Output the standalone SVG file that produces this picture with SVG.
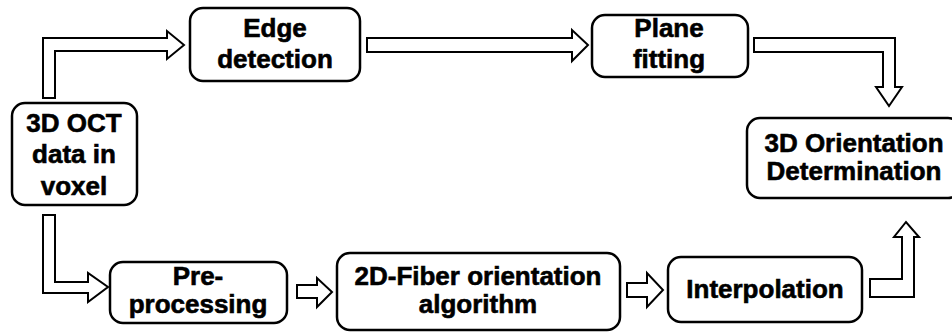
<svg xmlns="http://www.w3.org/2000/svg" width="952" height="332" viewBox="0 0 952 332">
<style>
.box{fill:#fff;stroke:#000;stroke-width:2.5}
.arr{fill:#fff;stroke:#000;stroke-width:2;stroke-linejoin:miter}
text{font-family:"Liberation Sans",Arial,sans-serif;font-weight:bold;font-size:26px;fill:#000;stroke:#000;stroke-width:0.6;text-anchor:middle}
</style>
<rect width="952" height="332" fill="#fff"/>
<g id="connectors">
<path class="arr" d="M43,98 L43,38 L167,38 L167,31 L184,45 L167,59 L167,51 L55,51 L55,98 Z"/>
<path class="arr" d="M367,38 L572,38 L572,30 L588,45 L572,61 L572,52 L367,52 Z"/>
<path class="arr" d="M754,38 L895,38 L895,87 L902,87 L889,106 L876,87 L883,87 L883,52 L754,52 Z"/>
<path class="arr" d="M43,215 L55,215 L55,282 L88,282 L88,273 L108,287 L88,302 L88,293 L43,293 Z"/>
<path class="arr" d="M297,285 L317,285 L317,278 L332,292 L317,307 L317,298 L297,298 Z"/>
<path class="arr" d="M627,283 L647,283 L647,273 L663,290 L647,307 L647,297 L627,297 Z"/>
<path class="arr" d="M870,279 L902,279 L902,237 L894,237 L906,222 L919,237 L914,237 L914,297 L870,297 Z"/>
</g>
<g id="n-oct">
<rect class="box" x="12" y="103" width="125" height="102" rx="13"/>
<text x="74" y="132">3D OCT</text>
<text x="74" y="163">data in</text>
<text x="74" y="195">voxel</text>
</g>
<g id="n-edge">
<rect class="box" x="190" y="8" width="170" height="73" rx="13"/>
<text x="275" y="37">Edge</text>
<text x="275" y="68">detection</text>
</g>
<g id="n-plane">
<rect class="box" x="592" y="15" width="156" height="62" rx="13"/>
<text x="669" y="37">Plane</text>
<text x="669" y="68">fitting</text>
</g>
<g id="n-orient">
<rect class="box" x="747" y="118" width="214" height="80" rx="13"/>
<text x="854" y="152">3D Orientation</text>
<text x="854" y="180">Determination</text>
</g>
<g id="n-pre">
<rect class="box" x="110" y="262" width="177" height="61" rx="13"/>
<text x="198" y="285">Pre-</text>
<text x="198" y="313">processing</text>
</g>
<g id="n-fiber">
<rect class="box" x="337" y="253" width="283" height="77" rx="13"/>
<text x="478" y="285">2D-Fiber orientation</text>
<text x="478" y="313">algorithm</text>
</g>
<g id="n-interp">
<rect class="box" x="668" y="257" width="194" height="65" rx="13"/>
<text x="765" y="298">Interpolation</text>
</g>
</svg>
